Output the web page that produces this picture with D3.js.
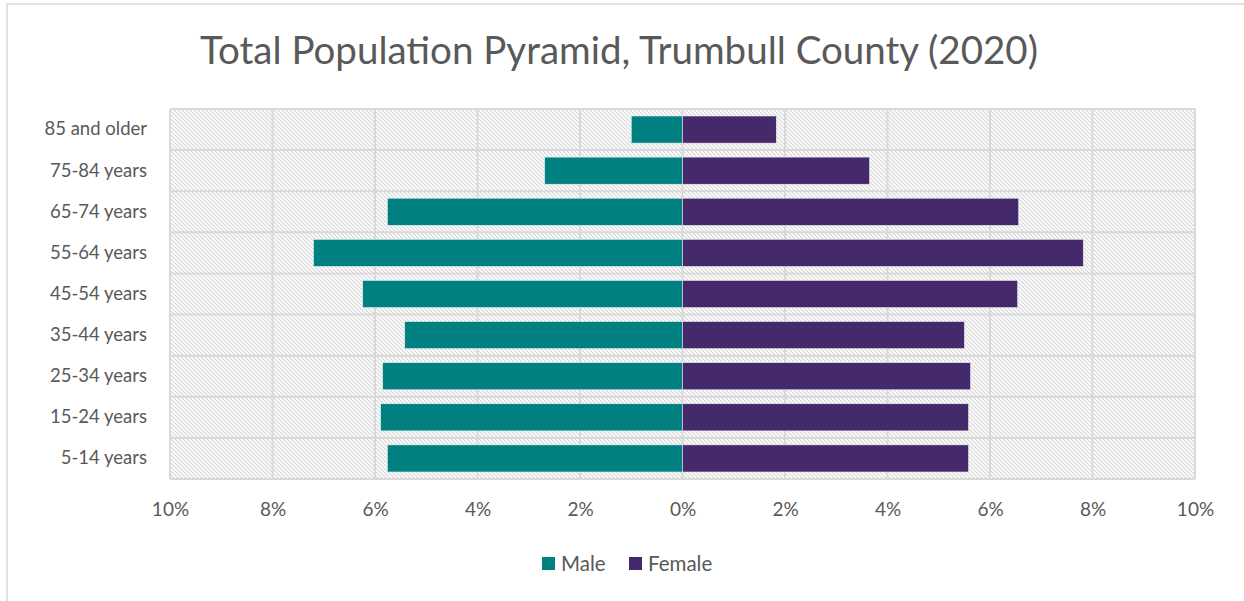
<!DOCTYPE html>
<html><head><meta charset="utf-8">
<script src="https://cdn.jsdelivr.net/npm/d3@7"></script>
<style>body{margin:0;background:#fff;}svg{display:block;font-family:Lato,"Open Sans",sans-serif;}</style>
</head><body>
<script>
const categories = ["85 and older","75-84 years","65-74 years","55-64 years","45-54 years","35-44 years","25-34 years","15-24 years","5-14 years"];
const maleValues = [1.0, 2.69, 5.76, 7.2, 6.24, 5.42, 5.85, 5.89, 5.76];
const femaleValues = [1.83, 3.65, 6.56, 7.82, 6.54, 5.5, 5.62, 5.58, 5.58];
const tickValues = [-10,-8,-6,-4,-2,0,2,4,6,8,10];
const seriesNames = ["Male","Female"];
const colors = ["#008080","#442a6b"];

const W = 1244, H = 601;
const svg = d3.select("body").append("svg").attr("width", W).attr("height", H);

const defs = svg.append("defs");
const pat = defs.append("pattern").attr("id","hatch").attr("patternUnits","userSpaceOnUse")
  .attr("width",4).attr("height",4);
pat.append("rect").attr("width",4).attr("height",4).attr("fill","#fff");
pat.append("path").attr("d","M-1,-1 L5,5 M-1,3 L1,5 M3,-1 L5,1").attr("stroke","#d4d4d4").attr("stroke-width",1.1);

// outer chart border
svg.append("rect").attr("x",7).attr("y",4).attr("width",W).attr("height",H).attr("fill","#fff").attr("stroke","#d9d9d9").attr("stroke-width",1.5);

const m = {l:170, r:1195, t:109, b:479};
const x = d3.scaleLinear().domain([-10,10]).range([m.l, m.r]);
const y = d3.scaleBand().domain(categories).range([m.t, m.b]).paddingInner(0.34).paddingOuter(0.17);
const yGrid = d3.scaleBand().domain(categories).range([m.t, m.b]);

svg.append("rect").attr("x",m.l).attr("y",m.t).attr("width",m.r-m.l).attr("height",m.b-m.t).attr("fill","url(#hatch)");

// grid
const g = svg.append("g");
g.selectAll("line.v").data(tickValues).join("line")
  .attr("x1",d=>x(d)).attr("x2",d=>x(d)).attr("y1",m.t).attr("y2",m.b)
  .attr("stroke","#d9d9d9").attr("stroke-width",2);
const hLines = categories.map(c=>yGrid(c)).concat([m.b]);
g.selectAll("line.h").data(hLines).join("line")
  .attr("x1",m.l).attr("x2",m.r).attr("y1",d=>d).attr("y2",d=>d)
  .attr("stroke","#d9d9d9").attr("stroke-width",2);

// bars
const rows = categories.map((c,i)=>({c, male:maleValues[i], female:femaleValues[i]}));
svg.append("g").selectAll("rect").data(rows).join("rect")
  .attr("x",d=>x(-d.male)).attr("y",d=>y(d.c)).attr("width",d=>x(0)-x(-d.male)).attr("height",y.bandwidth())
  .attr("fill",colors[0]).attr("stroke","#e8f2f2").attr("stroke-width",0.6);
svg.append("g").selectAll("rect").data(rows).join("rect")
  .attr("x",x(0)).attr("y",d=>y(d.c)).attr("width",d=>x(d.female)-x(0)).attr("height",y.bandwidth())
  .attr("fill",colors[1]).attr("stroke","#ece8f2").attr("stroke-width",0.6);

// y labels
const yAxis = d3.axisLeft(yGrid).tickSize(0).tickPadding(23);
const ya = svg.append("g").attr("transform",`translate(${m.l},0)`).call(yAxis);
ya.select(".domain").remove();
ya.selectAll("text").attr("font-size",18.5).attr("fill","#595959").attr("font-family","Lato,'Open Sans',sans-serif");

// x axis
const xAxis = d3.axisBottom(x).tickValues(tickValues).tickSize(0).tickPadding(24).tickFormat(d=>Math.abs(d)+"%");
const xa = svg.append("g").attr("transform",`translate(0,${m.b})`).call(xAxis);
xa.select(".domain").remove();
xa.selectAll("text").attr("font-size",19).attr("fill","#595959").attr("font-family","Lato,'Open Sans',sans-serif");

// title
svg.append("text").attr("x",619).attr("y",64).attr("text-anchor","middle")
  .attr("font-size",38.5).attr("fill","#595959").text("Total Population Pyramid, Trumbull County (2020)");

// legend
const legX = [542, 629];
const lg = svg.append("g");
seriesNames.forEach((n,i)=>{
  lg.append("rect").attr("x",legX[i]).attr("y",557).attr("width",13).attr("height",13).attr("fill",colors[i]);
  lg.append("text").attr("x",legX[i]+19).attr("y",571).attr("font-size",20.5).attr("fill","#595959").text(n);
});
</script>
</body></html>
